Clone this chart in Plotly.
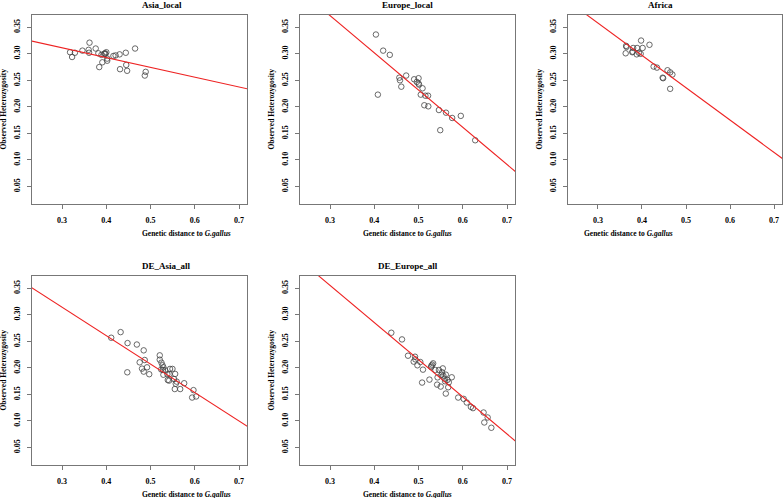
import plotly.graph_objects as go

W, H = 783, 498

panel_titles = ["Asia_local", "Europe_local", "Africa", "DE_Asia_all", "DE_Europe_all"]

asia_local_x = [0.318, 0.3226, 0.329, 0.346, 0.362, 0.360, 0.361, 0.376, 0.382, 0.389, 0.384, 0.391,
                0.395, 0.397, 0.398, 0.400, 0.402, 0.402, 0.416, 0.421, 0.430, 0.444, 0.431, 0.445,
                0.447, 0.465, 0.489, 0.487]
asia_local_y = [0.303, 0.294, 0.302, 0.306, 0.321, 0.3075, 0.302, 0.310, 0.301, 0.298, 0.275, 0.284,
                0.300, 0.301, 0.300, 0.303, 0.291, 0.287, 0.296, 0.297, 0.299, 0.302, 0.271, 0.279,
                0.268, 0.310, 0.266, 0.259]

europe_local_x = [0.4036, 0.420, 0.435, 0.408, 0.472, 0.4565, 0.458, 0.461, 0.490, 0.496, 0.500,
                  0.500, 0.501, 0.509, 0.505, 0.5155, 0.5215, 0.513, 0.522, 0.546, 0.562, 0.576,
                  0.5955, 0.549, 0.628]
europe_local_y = [0.3364, 0.306, 0.298, 0.223, 0.259, 0.255, 0.250, 0.238, 0.252, 0.247, 0.254,
                  0.244, 0.242, 0.235, 0.223, 0.221, 0.221, 0.203, 0.201, 0.194, 0.189, 0.179,
                  0.183, 0.156, 0.137]

africa_x = [0.363, 0.364, 0.365, 0.379, 0.378, 0.380, 0.389, 0.388, 0.393, 0.397, 0.398, 0.4015,
            0.417, 0.4265, 0.434, 0.458, 0.464, 0.469, 0.447, 0.448, 0.464]
africa_y = [0.301, 0.315, 0.313, 0.304, 0.303, 0.311, 0.311, 0.299, 0.302, 0.300, 0.325, 0.311,
            0.317, 0.276, 0.274, 0.269, 0.265, 0.261, 0.255, 0.254, 0.234]

de_asia_x = [0.411, 0.4323, 0.448, 0.4474, 0.469, 0.4845, 0.4754, 0.4868, 0.4807, 0.492, 0.4845,
             0.497, 0.5208, 0.5208, 0.5246, 0.527, 0.529, 0.524, 0.528, 0.5329, 0.529, 0.538,
             0.544, 0.5495, 0.5427, 0.539, 0.542, 0.553, 0.5556, 0.559, 0.557, 0.5548, 0.567,
             0.576, 0.597, 0.594, 0.603]
de_asia_y = [0.2568, 0.2674, 0.2467, 0.1916, 0.244, 0.233, 0.2104, 0.2148, 0.1985, 0.201, 0.1929,
             0.188, 0.2236, 0.2154, 0.2098, 0.2048, 0.201, 0.197, 0.196, 0.1953, 0.187, 0.188,
             0.198, 0.198, 0.188, 0.177, 0.176, 0.179, 0.1885, 0.174, 0.170, 0.160, 0.160,
             0.171, 0.158, 0.144, 0.146]

de_europe_x = [0.4384, 0.4626, 0.4762, 0.492, 0.489, 0.4928, 0.4974, 0.504, 0.510, 0.508, 0.5246,
               0.5284, 0.531, 0.533, 0.529, 0.538, 0.546, 0.543, 0.542, 0.550, 0.553, 0.5548,
               0.556, 0.5586, 0.560, 0.5616, 0.5616, 0.5654, 0.567, 0.5684, 0.575, 0.5518,
               0.5896, 0.602, 0.609, 0.6183, 0.623, 0.647, 0.6486, 0.6562, 0.6645]
de_europe_y = [0.2662, 0.2536, 0.2229, 0.221, 0.2117, 0.216, 0.2048, 0.211, 0.1966, 0.1722, 0.1778,
               0.2016, 0.206, 0.2085, 0.204, 0.196, 0.196, 0.182, 0.1684, 0.1647, 0.1916, 0.199,
               0.1853, 0.1797, 0.1747, 0.1515, 0.1872, 0.1772, 0.1634, 0.1728, 0.1822, 0.1866,
               0.144, 0.1415, 0.1346, 0.1264, 0.124, 0.1158, 0.097, 0.1064, 0.087]

# regression lines (intercept, slope)
fit_intercepts = [0.3669, 0.5826, 0.541, 0.4753, 0.5656]
fit_slopes = [-0.1848, -0.702, -0.610, -0.5366, -0.7007]

x_ticks = [0.3, 0.4, 0.5, 0.6, 0.7]
y_ticks = [0.05, 0.10, 0.15, 0.20, 0.25, 0.30, 0.35]
x_range = [0.232, 0.718]
y_range = [0.0168, 0.3732]

xs = [asia_local_x, europe_local_x, africa_x, de_asia_x, de_europe_x]
ys = [asia_local_y, europe_local_y, africa_y, de_asia_y, de_europe_y]

# panel frames in pixels: (left, right, top, bottom)
frames = [(32, 247, 15, 204), (300, 515, 15, 204), (568, 782, 15, 204),
          (32, 247, 276, 465), (300, 515, 276, 465)]

FONT = "Liberation Serif"
fig = go.Figure()
ann = []
for i in range(5):
    l, r, t, b = frames[i]
    sfx = "" if i == 0 else str(i + 1)
    xa, ya = "x" + sfx, "y" + sfx
    fig.add_trace(go.Scatter(x=xs[i], y=ys[i], mode="markers", xaxis=xa, yaxis=ya,
                             marker=dict(symbol="circle-open", size=5.5, color="#444",
                                         line=dict(width=0.8, color="#444")),
                             showlegend=False, cliponaxis=True))
    lx = [0.1, 0.9]
    ly = [fit_intercepts[i] + fit_slopes[i] * v for v in lx]
    fig.add_trace(go.Scatter(x=lx, y=ly, mode="lines", xaxis=xa, yaxis=ya,
                             line=dict(color="#ee2222", width=1.1), showlegend=False))
    axcommon = dict(showline=True, mirror=True, linecolor="#777", linewidth=1,
                    ticks="outside", ticklen=4, tickcolor="#777", tickwidth=1,
                    showgrid=False, zeroline=False,
                    tickfont=dict(family=FONT, size=8, color="black", weight="bold"))
    fig.update_layout(**{
        "xaxis" + sfx: dict(domain=[l / W, min(r / W, 1.0)], range=x_range, anchor=ya,
                            tickvals=x_ticks, ticktext=[f"{v:.1f}" for v in x_ticks],
                            ticklabelstandoff=4, **axcommon),
        "yaxis" + sfx: dict(domain=[1 - b / H, 1 - t / H], range=y_range, anchor=xa,
                            tickvals=y_ticks, ticktext=[f"{v:.2f}" for v in y_ticks],
                            tickangle=-90, ticklabelstandoff=4, **axcommon),
    })
    title_y = t - 10
    ann.append(dict(text="<b>" + panel_titles[i] + "</b>", x=(l + r) / 2 / W, y=1 - title_y / H,
                    xref="paper", yref="paper", showarrow=False, yanchor="middle",
                    font=dict(family=FONT, size=9, color="black")))
    ann.append(dict(text="<b>Genetic distance to <i>G.gallus</i></b>", x=(l + r) / 2 / W,
                    y=1 - (b + 29) / H, xref="paper", yref="paper", showarrow=False,
                    yanchor="middle", font=dict(family=FONT, size=7.5, color="black")))
    ann.append(dict(text="<b>Observed Heterozygosity</b>", x=(l - 29) / W, y=1 - (t + b) / 2 / H,
                    xref="paper", yref="paper", showarrow=False, textangle=-90,
                    xanchor="center", yanchor="middle",
                    font=dict(family=FONT, size=7.5, color="black")))

fig.update_layout(width=W, height=H, margin=dict(l=0, r=0, t=0, b=0),
                  paper_bgcolor="white", plot_bgcolor="white", annotations=ann)
fig.write_html("out.html", config={"displayModeBar": False},
               post_script="document.body.style.margin='0';document.body.style.padding='0';")
